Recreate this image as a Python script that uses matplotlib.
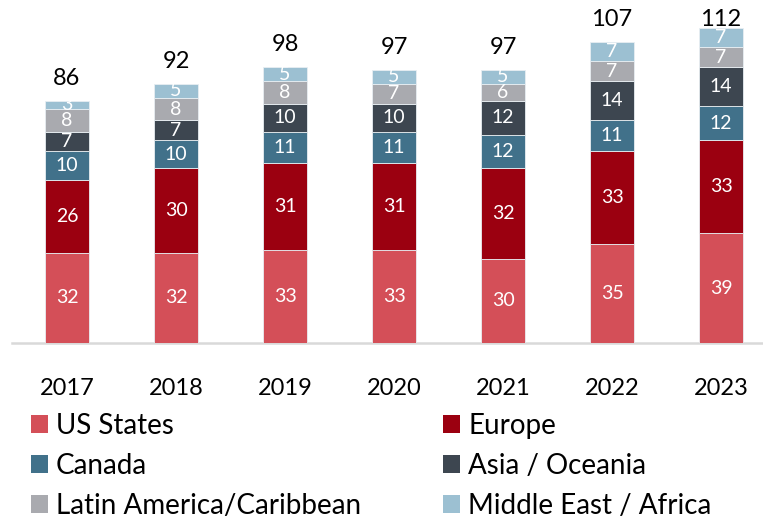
import matplotlib
matplotlib.use("Agg")
import matplotlib.pyplot as plt
import numpy as np

years = ["2017", "2018", "2019", "2020", "2021", "2022", "2023"]
series_names = ["US States", "Europe", "Canada", "Asia / Oceania",
                "Latin America/Caribbean", "Middle East / Africa"]
us_states = [32, 32, 33, 33, 30, 35, 39]
europe = [26, 30, 31, 31, 32, 33, 33]
canada = [10, 10, 11, 11, 12, 11, 12]
asia_oceania = [7, 7, 10, 10, 12, 14, 14]
latin_america = [8, 8, 8, 7, 6, 7, 7]
middle_east_africa = [3, 5, 5, 5, 5, 7, 7]
totals = [86, 92, 98, 97, 97, 107, 112]
colors = ["#D44F58", "#9B0010", "#41718A", "#3D4650", "#A9AAAF", "#9CC0D2"]

plt.rcParams['font.family'] = ['Lato', 'DejaVu Sans']

fig = plt.figure(figsize=(7.63, 5.20), dpi=100)
ax = fig.add_axes([12/763, (520-343)/520, (763-12)/763, 338/520])

data = [us_states, europe, canada, asia_oceania, latin_america, middle_east_africa]
x = np.arange(len(years))
bottom = np.zeros(len(years))
bars_all = []
for vals, col, name in zip(data, colors, series_names):
    b = ax.bar(x, vals, width=0.40, bottom=bottom, color=col, label=name,
               edgecolor="#E8EEF2", linewidth=0.6, zorder=2)
    for xi, v, bt in zip(x, vals, bottom):
        ax.text(xi, bt + v/2, str(v), ha='center', va='center', color='white',
                fontsize=14, zorder=3)
    bottom += np.array(vals)
    bars_all.append(b)

ax.set_xlim(-0.505, 6.385)
ax.set_ylim(0, 120)
px_per_unit = 338 / 120
for xi, t in zip(x, totals):
    ylab = min(t + 22 / px_per_unit, (343 - 19) / px_per_unit)
    ax.text(xi, ylab, str(t), ha='center', va='center', fontsize=17,
            color='black', clip_on=False)

ax.set_xticks(x)
ax.set_xticklabels(years, fontsize=17)
ax.tick_params(axis='x', length=0, pad=25)
ax.set_yticks([])
for s in ['top', 'right', 'left']:
    ax.spines[s].set_visible(False)
ax.spines['bottom'].set_color('#D9D9D9')
ax.spines['bottom'].set_linewidth(1.8)
ax.spines['bottom'].set_zorder(1)

order = [0, 2, 4, 1, 3, 5]
handles = [bars_all[i] for i in order]
labels = [series_names[i] for i in order]
leg = fig.legend(handles, labels, ncol=2, loc='upper left',
                 bbox_to_anchor=(31/763, 1 - 413/520), frameon=False,
                 fontsize=20, handlelength=0.6, handleheight=0.6,
                 handletextpad=0.3, columnspacing=2.95, labelspacing=0.5,
                 borderpad=0, borderaxespad=0)
for h in leg.legend_handles:
    h.set_edgecolor('none')

fig.savefig("out.png", dpi=100)
